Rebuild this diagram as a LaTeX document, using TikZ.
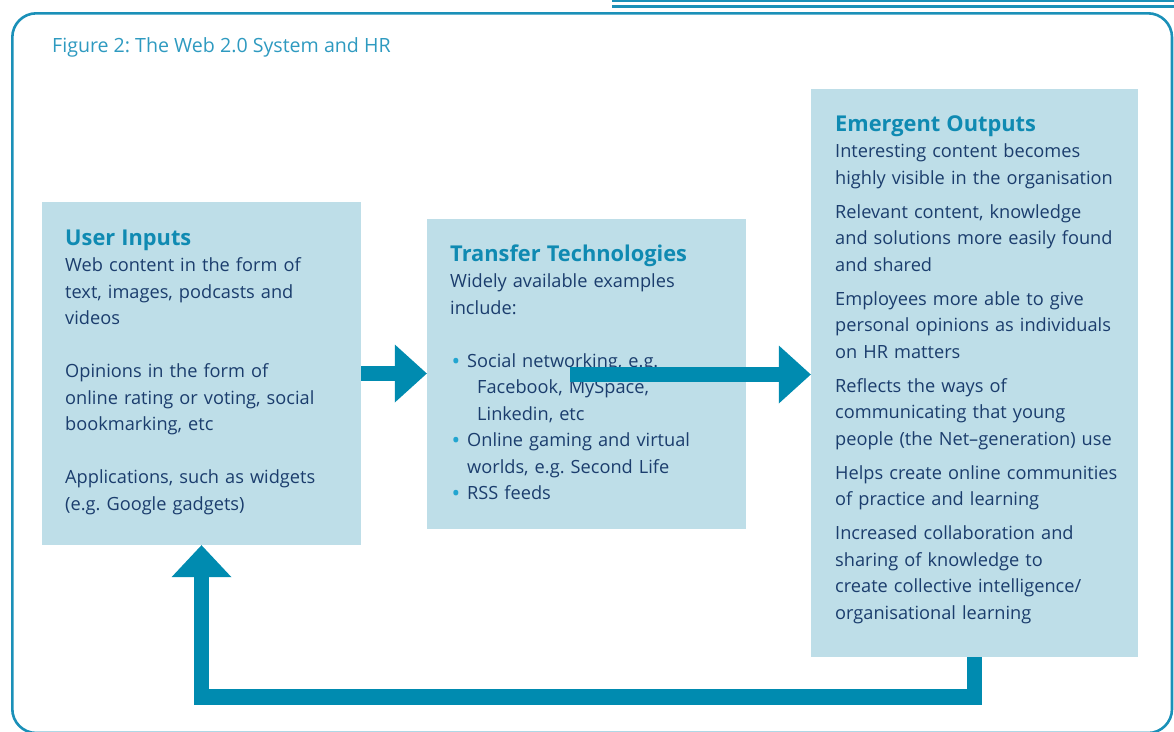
\documentclass[tikz,border=0pt]{standalone}
\usepackage{fontspec}
\setmainfont{Open Sans}
\usetikzlibrary{arrows.meta}
\definecolor{boxfill}{HTML}{BEDEE8}
\definecolor{arrowc}{HTML}{008BB0}
\definecolor{headc}{HTML}{0F8AB2}
\definecolor{bodyc}{HTML}{1B3D6D}
\definecolor{titlec}{HTML}{2E9AC0}
\definecolor{framec}{HTML}{1A90B8}
\definecolor{bulc}{HTML}{22A5D0}
\frenchspacing
\tikzset{
  panel/.style={rectangle, fill=boxfill, draw=none, inner sep=0pt},
  paneltext/.style={anchor=base west, inner sep=0pt, align=left, text=bodyc,
    font=\fontsize{18.2}{26.5}\selectfont},
  blockarrow/.style={draw=arrowc, line width=15.5pt, line join=miter,
    -{Triangle[length=32pt,width=58pt,line width=0pt]}},
}
\newcommand{\hd}[1]{{\color{headc}\bfseries\fontsize{21.8}{26.5}\selectfont #1}}
\newcommand{\bul}{\makebox[17pt][l]{\hspace{1.5pt}\raisebox{-2.2pt}{\textcolor{bulc}{\fontsize{23}{26.5}\selectfont •}}}}
\begin{document}
\begin{tikzpicture}[x=1pt,y=-1pt]
\useasboundingbox (0,0) rectangle (1174,731);
% frame and top rules
\draw[framec, line width=2.6pt, rounded corners=24pt] (12.3,13.3) rectangle (1172,733);
\draw[framec, line width=1.6pt] (612,0.8) -- (1174,0.8);
\draw[framec, line width=3pt] (612,6.3) -- (1174,6.3);
\node[anchor=base west, inner sep=0pt, text=titlec, font=\fontsize{19.6}{24}\selectfont] (title) at (52,52) {Figure 2: The Web 2.0 System and HR};
% panels
\node[panel, minimum width=319pt, minimum height=343pt] (ui) at (201.5,373.5) {};
\node[panel, minimum width=319pt, minimum height=310pt] (tt) at (586.5,374) {};
\node[panel, minimum width=327pt, minimum height=568pt] (eo) at (974.5,373) {};
% texts
\node[paneltext, text width=290pt] (uitext) at (65,245) {\hd{User Inputs}\\
Web content in the form of\\
text, images, podcasts and\\
videos\\[26.5pt]
Opinions in the form of\\
online rating or voting, social\\
bookmarking, etc\\[26.5pt]
Applications, such as widgets\\
(e.g. Google gadgets)};
\node[paneltext, text width=290pt] (tttext) at (450,261) {\hd{Transfer Technologies}\\
Widely available examples\\
include:\\[26.5pt]
\bul Social networking, e.g.\\
\hspace*{27pt}Facebook, MySpace,\\
\hspace*{27pt}Linkedin, etc\\
\bul Online gaming and virtual\\
\hspace*{17pt}worlds, e.g. Second Life\\
\bul RSS feeds};
\node[paneltext, text width=300pt] (eotext) at (835,131) {\hd{Emergent Outputs}\\
Interesting content becomes\\
highly visible in the organisation\\[7.5pt]
Relevant content, knowledge\\
and solutions more easily found\\
and shared\\[7.5pt]
Employees more able to give\\
personal opinions as individuals\\
on HR matters\\[7.5pt]
Reflects the ways of\\
communicating that young\\
people (the Net–generation) use\\[7.5pt]
Helps create online communities\\
of practice and learning\\[7.5pt]
Increased collaboration and\\
sharing of knowledge to\\
create collective intelligence/\\
organisational learning};
% arrows
\coordinate (mid) at (570,374.5);
\draw[blockarrow] (ui.east) -- (ui.east -| tt.west);
\draw[blockarrow] (mid) -- (mid -| eo.west);
\draw[blockarrow, -{Triangle[length=32pt,width=60pt,line width=0pt]}] (eo.south) -- ++(0,40) -| (ui.south);
\end{tikzpicture}
\end{document}
